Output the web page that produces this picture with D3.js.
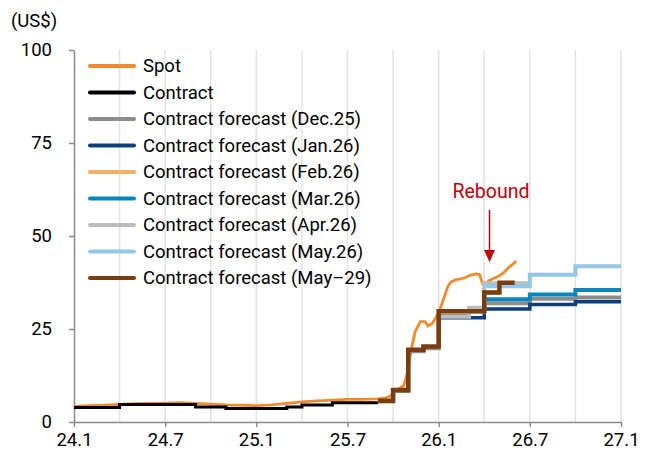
<!DOCTYPE html>
<html>
<head>
<meta charset="utf-8">
<script src="https://cdn.jsdelivr.net/npm/d3@7"></script>
<style>
  body { margin: 0; background: #fff; }
  text { font-family: Roboto, "Noto Sans", sans-serif; }
</style>
</head>
<body>
<svg width="649" height="456"></svg>
<script>
// months counted from 24.1 (0) to 27.1 (36)
const xTickLabels = ['24.1', '24.7', '25.1', '25.7', '26.1', '26.7', '27.1'];
const yTicks = [0, 25, 50, 75, 100];

// spot price: [month, US$]
const spot = [
  [0, 4.2], [1, 4.4], [2, 4.5], [3, 4.7], [4, 4.9], [5, 5.0], [6, 5.1], [7, 5.2],
  [8, 5.0], [9, 4.8], [10, 4.6], [11, 4.5], [12, 4.4], [13, 4.6], [14, 5.0],
  [15, 5.4], [16, 5.7], [17, 5.9], [18, 6.1], [19, 6.1], [20, 6.2], [20.5, 6.5],
  [20.8, 6.9], [21.25, 8.6], [21.7, 9.8], [21.9, 12.5], [22.2, 19.4], [22.45, 24.3],
  [22.8, 27], [23.1, 27], [23.3, 25.8], [23.6, 26.6], [24.0, 29.3], [24.3, 32.8],
  [24.6, 36.4], [24.8, 37.6], [25.1, 38.2], [25.7, 38.7], [26.1, 39.5], [26.5, 39.8],
  [26.7, 39.6], [26.85, 37.7], [27.0, 36.3], [27.3, 38.0], [27.6, 38.6], [28.0, 39.3],
  [28.3, 40.2], [28.6, 41.5], [28.9, 42.5], [29.1, 43.3]
];

// monthly step series: first month + one value per month
const contractStart = 0;
const contract = [3.9, 3.9, 3.9, 4.7, 4.7, 4.7, 4.7, 4.7, 4.0, 4.0, 3.6, 3.6, 3.6, 3.6,
  4.0, 4.6, 4.6, 5.2, 5.2, 5.2];

const fcDec25Start = 20;
const fcDec25 = [5.5, 8.3, 19.0, 19.8, 28.5, 28.5, 30.5, 31.9, 31.9, 31.9, 33.1, 33.1, 33.1, 33.5, 33.5, 33.5];
const fcJan26Start = 24;
const fcJan26 = [28.0, 28.0, 28.0, 30.4, 30.4, 30.4, 31.6, 31.6, 31.6, 32.3, 32.3, 32.3];
const fcFeb26Start = 24;
const fcFeb26 = [29.7, 29.7, 29.7, 34.8];
const fcMar26Start = 27;
const fcMar26 = [33.0, 33.0, 33.0, 34.3, 34.3, 34.3, 35.5, 35.5, 35.5];
const fcApr26Start = 24;
const fcApr26 = [28.3, 28.3, 30.7, 37.3, 37.3, 37.3];
const fcMay26Start = 27;
const fcMay26 = [36.5, 36.5, 36.5, 39.6, 39.6, 39.6, 41.9, 41.9, 41.9];
const fcMay29Start = 20;
const fcMay29 = [5.7, 8.6, 19.4, 20.3, 29.8, 29.8, 29.8, 34.8, 37.4];

const svg = d3.select('svg');
const fontSize = 18.5;

const x = d3.scaleLinear().domain([0, 36]).range([74, 621]);
const y = d3.scaleLinear().domain([0, 100]).range([422, 50]);

// grid every quarter
svg.append('g')
  .selectAll('line')
  .data(d3.range(3, 37, 3))
  .join('line')
    .attr('x1', d => x(d)).attr('x2', d => x(d))
    .attr('y1', y(100)).attr('y2', y(0))
    .attr('stroke', '#e3e3e3')
    .attr('stroke-width', 1.5);

// axes
const xAxis = svg.append('g')
  .attr('transform', `translate(0, ${y(0)})`)
  .call(d3.axisBottom(x)
    .tickValues(d3.range(0, 37, 6))
    .tickFormat((d, i) => xTickLabels[i])
    .tickSize(5)
    .tickSizeOuter(0));
xAxis.select('.domain').attr('stroke', '#8c8c8c').attr('stroke-width', 1.5);
xAxis.selectAll('.tick line').attr('stroke', '#8c8c8c').attr('stroke-width', 1.5);
xAxis.selectAll('.tick text')
  .attr('font-size', fontSize).attr('fill', '#000').attr('dy', '0.85em')
  .style('font-family', 'Roboto, sans-serif');

const yAxis = svg.append('g')
  .attr('transform', `translate(${x(0)}, 0)`)
  .call(d3.axisLeft(y)
    .tickValues(yTicks)
    .tickSize(5)
    .tickPadding(17)
    .tickSizeOuter(0));
yAxis.select('.domain').attr('stroke', '#8c8c8c').attr('stroke-width', 1.5);
yAxis.selectAll('.tick line').attr('stroke', '#8c8c8c').attr('stroke-width', 1.5);
yAxis.selectAll('.tick text')
  .attr('font-size', fontSize).attr('fill', '#000')
  .style('font-family', 'Roboto, sans-serif');

svg.append('text')
  .attr('x', 11).attr('y', 27)
  .attr('font-size', fontSize)
  .text('(US$)');

// lines
const stepLine = d3.line()
  .x(d => x(d[0]))
  .y(d => y(d[1]))
  .curve(d3.curveStepAfter);

function steps(start, values) {
  const pts = values.map((v, i) => [start + i, v]);
  pts.push([start + values.length, values[values.length - 1]]);
  return pts;
}

const series = [
  { name: 'Spot', color: '#f28a2e', width: 2.8, pts: spot, step: false },
  { name: 'Contract', color: '#000000', width: 3, pts: steps(contractStart, contract), step: true },
  { name: 'Contract forecast (Dec.25)', color: '#8c8c8c', width: 4, pts: steps(fcDec25Start, fcDec25), step: true },
  { name: 'Contract forecast (Jan.26)', color: '#0b3e7c', width: 3.5, pts: steps(fcJan26Start, fcJan26), step: true },
  { name: 'Contract forecast (Feb.26)', color: '#f4b066', width: 4, pts: steps(fcFeb26Start, fcFeb26), step: true },
  { name: 'Contract forecast (Mar.26)', color: '#0b86bd', width: 4, pts: steps(fcMar26Start, fcMar26), step: true },
  { name: 'Contract forecast (Apr.26)', color: '#bdbdbd', width: 4, pts: steps(fcApr26Start, fcApr26), step: true },
  { name: 'Contract forecast (May.26)', color: '#93c8e9', width: 4, pts: steps(fcMay26Start, fcMay26), step: true },
  { name: 'Contract forecast (May\u201329)', color: '#7a3d0f', width: 4.5, pts: steps(fcMay29Start, fcMay29), step: true }
];

const plainLine = d3.line().x(d => x(d[0])).y(d => y(d[1]));

svg.append('g')
  .selectAll('path')
  .data(series)
  .join('path')
    .attr('d', d => (d.step ? stepLine : plainLine)(d.pts))
    .attr('fill', 'none')
    .attr('stroke', d => d.color)
    .attr('stroke-width', d => d.width)
    .attr('stroke-linejoin', 'miter');

// legend
const legend = svg.append('g');
const rows = legend.selectAll('g')
  .data(series)
  .join('g')
    .attr('transform', (d, i) => `translate(90, ${66 + i * 26.5})`);
rows.append('line')
  .attr('x1', 0).attr('x2', 44)
  .attr('stroke', d => d.color)
  .attr('stroke-width', 4)
  .attr('stroke-linecap', 'round');
rows.append('text')
  .attr('x', 53).attr('dy', '0.35em')
  .attr('font-size', fontSize)
  .text(d => d.name);

// annotation
const red = '#c0000b';
svg.append('text')
  .attr('x', 491).attr('y', 198)
  .attr('text-anchor', 'middle')
  .attr('font-size', 19.5)
  .attr('fill', red)
  .text('Rebound');
svg.append('line')
  .attr('x1', 489.5).attr('x2', 489.5)
  .attr('y1', 210).attr('y2', 252)
  .attr('stroke', red).attr('stroke-width', 1.5);
svg.append('path')
  .attr('d', 'M484,250 L495,250 L489.5,262 Z')
  .attr('fill', red);
</script>
</body>
</html>
